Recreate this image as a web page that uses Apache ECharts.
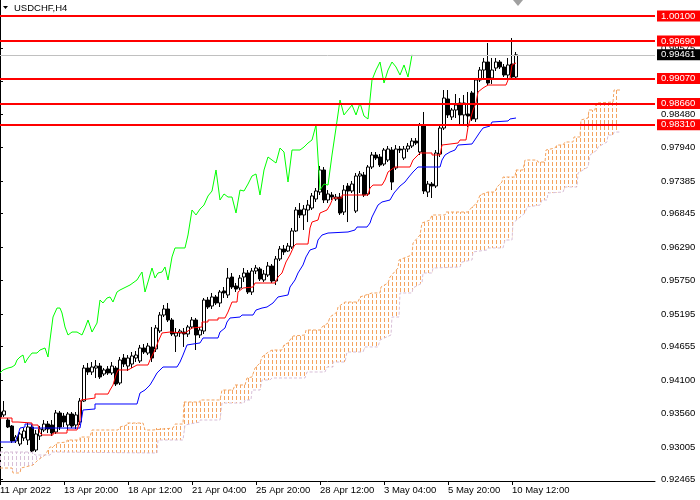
<!DOCTYPE html>
<html><head><meta charset="utf-8">
<script src="https://cdn.jsdelivr.net/npm/echarts@6/dist/echarts.min.js"></script>
<style>html,body{margin:0;padding:0;background:#fff}#c{width:700px;height:500px}</style>
</head><body><div id="c"></div>
<script>
// ---- data (USDCHF H4) ----
// candles: [open, close, low, high], bar index = position in array
const candles = [
[0.93580,0.93498,0.93465,0.93646],[0.93531,0.93597,0.93498,0.93761],[0.93448,0.93333,0.93316,0.93481],[0.93349,0.93103,0.93070,0.93366],
[0.93103,0.93168,0.93070,0.93201],[0.93053,0.93218,0.93020,0.93251],[0.93152,0.93267,0.93103,0.93316],[0.93119,0.93333,0.93037,0.93399],
[0.93333,0.92938,0.92921,0.93366],[0.92954,0.93218,0.92921,0.93284],[0.93185,0.93300,0.93119,0.93349],[0.93284,0.93382,0.93251,0.93448],
[0.93382,0.93300,0.93234,0.93432],[0.93366,0.93234,0.93185,0.93448],[0.93251,0.93564,0.93218,0.93613],[0.93564,0.93333,0.93284,0.93597],
[0.93514,0.93415,0.93333,0.93564],[0.93366,0.93547,0.93284,0.93580],[0.93547,0.93349,0.93316,0.93580],[0.93366,0.93531,0.93300,0.93580],
[0.93415,0.93761,0.93366,0.93810],[0.93761,0.94304,0.93745,0.94354],[0.94304,0.94239,0.94190,0.94387],[0.94239,0.94321,0.94190,0.94403],
[0.94304,0.94337,0.94140,0.94436],[0.94337,0.94157,0.94124,0.94387],[0.94206,0.94272,0.94173,0.94304],[0.94288,0.94223,0.94190,0.94337],
[0.94223,0.94337,0.94190,0.94403],[0.94304,0.94041,0.94008,0.94337],[0.94058,0.94436,0.94025,0.94486],[0.94469,0.94370,0.94321,0.94535],
[0.94337,0.94469,0.94255,0.94518],[0.94370,0.94502,0.94304,0.94568],[0.94469,0.94518,0.94403,0.94584],[0.94420,0.94634,0.94387,0.94684],
[0.94634,0.94568,0.94535,0.94700],[0.94551,0.94667,0.94518,0.94717],[0.94651,0.94469,0.94403,0.94980],[0.94618,0.94963,0.94568,0.95013],
[0.94914,0.95177,0.94881,0.95226],[0.95177,0.95276,0.95144,0.95342],[0.95276,0.95095,0.95062,0.95375],[0.95095,0.94864,0.94831,0.95128],
[0.94831,0.94881,0.94568,0.94963],[0.94881,0.94914,0.94815,0.94947],[0.94897,0.94864,0.94651,0.94963],[0.94864,0.94980,0.94815,0.95013],
[0.94980,0.95095,0.94947,0.95144],[0.95095,0.94848,0.94601,0.95128],[0.94848,0.94930,0.94799,0.94980],[0.94914,0.95424,0.94864,0.95457],
[0.95424,0.95309,0.95276,0.95474],[0.95325,0.95474,0.95276,0.95540],[0.95474,0.95375,0.95342,0.95507],[0.95375,0.95556,0.95309,0.95589],
[0.95573,0.95540,0.95457,0.95638],[0.95507,0.95786,0.95457,0.95951],[0.95803,0.95638,0.95605,0.95869],[0.95655,0.95605,0.95556,0.95704],
[0.95622,0.95786,0.95589,0.95836],[0.95803,0.95869,0.95721,0.95951],[0.95869,0.95556,0.95523,0.95918],[0.95556,0.95902,0.95507,0.95951],
[0.95902,0.95951,0.95852,0.96001],[0.95935,0.95770,0.95737,0.95968],[0.95754,0.95852,0.95721,0.95918],[0.95836,0.95984,0.95803,0.96050],
[0.95984,0.95737,0.95704,0.96017],[0.95737,0.96100,0.95671,0.96149],[0.96100,0.96264,0.96066,0.96313],[0.96264,0.96215,0.96166,0.96330],
[0.96231,0.96313,0.96215,0.96363],[0.96297,0.96561,0.96264,0.96610],[0.96561,0.96906,0.96544,0.96955],[0.96906,0.96824,0.96774,0.97021],
[0.96824,0.96922,0.96577,0.96988],[0.96906,0.96988,0.96708,0.97071],[0.96939,0.97137,0.96906,0.97186],[0.97087,0.97219,0.97038,0.97268],
[0.97202,0.97565,0.97153,0.97631],[0.97565,0.97071,0.97021,0.97614],[0.97071,0.97170,0.97021,0.97235],[0.97153,0.97120,0.97071,0.97202],
[0.97087,0.97120,0.97054,0.97170],[0.97120,0.96857,0.96824,0.97186],[0.96873,0.97235,0.96824,0.97317],[0.97301,0.97219,0.96708,0.97350],
[0.97219,0.97334,0.97186,0.97384],[0.96889,0.97466,0.96857,0.97515],[0.97466,0.97499,0.97186,0.97548],[0.97482,0.97153,0.97120,0.97532],
[0.97170,0.97614,0.97137,0.97647],[0.97614,0.97812,0.97581,0.97861],[0.97812,0.97762,0.97729,0.97861],[0.97779,0.97647,0.97614,0.97828],
[0.97663,0.97894,0.97631,0.97927],[0.97729,0.97910,0.97696,0.97960],[0.97894,0.97367,0.97235,0.97943],[0.97598,0.97910,0.97565,0.97976],
[0.97910,0.97894,0.97845,0.97960],[0.97762,0.97910,0.97729,0.97960],[0.97910,0.97960,0.97861,0.98009],[0.97960,0.98042,0.97927,0.98091],
[0.98042,0.98009,0.97976,0.98091],[0.97861,0.98306,0.97812,0.98339],[0.98289,0.97219,0.97170,0.98520],[0.97202,0.97334,0.97120,0.97384],
[0.97334,0.97301,0.97104,0.97367],[0.97301,0.97845,0.97268,0.97894],[0.97828,0.98256,0.97779,0.98289],[0.98256,0.98750,0.98223,0.98882],
[0.98734,0.98471,0.98421,0.98882],[0.98438,0.98553,0.98388,0.98586],[0.98553,0.98635,0.98421,0.98816],[0.98668,0.98471,0.98306,0.98750],
[0.98471,0.98668,0.98289,0.98800],[0.98487,0.98454,0.98273,0.98849],[0.98833,0.98405,0.98372,0.98866],[0.98405,0.99047,0.98355,0.99080],
[0.99047,0.99211,0.99014,0.99261],[0.99211,0.99343,0.99047,0.99409],[0.99343,0.98997,0.98964,0.99656],[0.99080,0.99211,0.98981,0.99409],
[0.99244,0.99343,0.99195,0.99409],[0.99343,0.99261,0.99228,0.99376],[0.99261,0.99129,0.99096,0.99310],[0.99129,0.99294,0.99080,0.99409],
[0.99310,0.99096,0.99063,0.99738],[0.99096,0.99461,0.99047,0.99508]
];
// Ichimoku lines: [bar index, price]
const tenkan = [[0,0.93481],[3,0.93481],[3,0.93415],[4.5,0.93415],[4.5,0.93399],[8,0.93399],[8,0.93366],[9.5,0.93366],[10,0.93234],[10.5,0.93201],[13.25,0.93201],[13.25,0.93234],[16.75,0.93234],[16.75,0.93284],[19.25,0.93284],[19.5,0.93333],[20,0.93448],[20.25,0.93778],[20.75,0.93810],[23.75,0.93810],[23.75,0.93876],[27,0.93876],[27.5,0.93942],[28.25,0.94025],[29,0.94190],[29.5,0.94272],[32,0.94272],[32.5,0.94304],[34.25,0.94354],[37,0.94354],[37.5,0.94436],[38.75,0.94601],[39.5,0.94733],[40.5,0.94881],[42.5,0.94897],[46.25,0.94881],[47,0.94914],[48,0.94963],[50.5,0.94980],[50.5,0.95062],[52,0.95062],[52,0.95095],[54.5,0.95095],[54.5,0.95128],[56.25,0.95128],[57,0.95226],[57.5,0.95309],[58,0.95391],[59.25,0.95391],[59.5,0.95556],[60.75,0.95622],[63.25,0.95638],[63.75,0.95704],[68.75,0.95704],[69.5,0.95803],[70.5,0.95869],[71.5,0.96050],[72.5,0.96166],[73.5,0.96313],[74,0.96346],[77,0.96346],[77.5,0.96610],[78,0.96708],[79.5,0.96741],[80,0.96857],[81.75,0.96906],[82.5,0.96988],[83.25,0.97104],[85.5,0.97104],[85.5,0.97153],[92,0.97153],[92.5,0.97268],[93.25,0.97317],[95.5,0.97317],[96.25,0.97400],[97,0.97532],[98.75,0.97614],[102.5,0.97614],[103.25,0.97729],[104.5,0.97812],[105,0.97845],[108,0.97845],[108,0.97812],[110,0.97812],[110.5,0.97976],[114.5,0.98009],[115,0.98059],[116.5,0.98059],[117,0.98273],[118.25,0.98553],[119,0.98668],[119.5,0.98849],[120.75,0.98915],[122,0.98964],[126.5,0.98964],[127,0.99047],[127.5,0.99080],[128,0.99294],[129,0.99327]];
const kijun = [[0,0.93086],[3.75,0.93086],[4.5,0.93201],[5,0.93316],[6.25,0.93333],[6.25,0.93382],[8,0.93382],[8,0.93316],[20,0.93316],[20.75,0.93613],[23.75,0.93630],[23.75,0.93712],[34.25,0.93712],[35,0.93893],[36.25,0.93942],[37.5,0.94025],[38.25,0.94107],[39.25,0.94223],[40.75,0.94321],[44.25,0.94321],[45,0.94403],[45.75,0.94518],[46.75,0.94684],[50,0.94717],[50.75,0.94799],[54.5,0.94799],[55,0.94897],[56.25,0.94963],[56.75,0.95062],[57.5,0.95128],[60,0.95144],[60.5,0.95177],[63.25,0.95177],[64,0.95259],[65.5,0.95292],[66.75,0.95309],[68.25,0.95375],[69.5,0.95474],[72,0.95507],[72.5,0.95638],[73.75,0.95754],[74.5,0.95869],[75.75,0.96001],[76.5,0.96133],[77.5,0.96248],[79,0.96281],[79.5,0.96412],[80.5,0.96494],[82,0.96527],[87,0.96544],[88.75,0.96577],[89.25,0.96626],[91.75,0.96626],[92.5,0.96692],[93,0.96791],[94.5,0.96988],[95.5,0.97038],[97.5,0.97071],[98.5,0.97186],[100,0.97301],[101.25,0.97367],[102,0.97433],[103.25,0.97532],[104.5,0.97614],[110,0.97614],[110.5,0.97729],[111.25,0.97812],[112.5,0.97861],[113.75,0.97894],[114.5,0.97976],[118,0.97993],[119,0.98091],[120,0.98190],[120.75,0.98256],[122.5,0.98289],[123,0.98355],[127,0.98372],[127.5,0.98405],[129,0.98421]];
const chikou = [[0,0.94223],[0.75,0.94272],[2,0.94304],[3,0.94321],[3.75,0.94354],[4.25,0.94436],[5,0.94486],[5.75,0.94518],[6.25,0.94387],[7,0.94469],[8,0.94551],[9.25,0.94551],[10,0.94601],[11.25,0.94634],[12,0.94486],[12.5,0.94766],[13.25,0.95144],[14.25,0.95292],[15,0.95292],[15.5,0.95210],[16.25,0.94980],[17,0.94848],[18,0.94897],[19.25,0.94897],[20.5,0.94848],[21.25,0.94963],[22,0.95095],[23,0.94897],[24.25,0.95045],[25,0.95424],[25.75,0.95375],[26.75,0.95457],[27.5,0.95474],[28.25,0.95391],[29.25,0.95556],[30,0.95589],[32.5,0.95671],[34.25,0.95754],[35,0.95836],[35.5,0.95885],[36.25,0.95556],[37,0.95721],[38,0.95951],[38.75,0.95787],[39.5,0.95869],[40.5,0.95885],[41.25,0.95968],[42,0.95754],[43,0.96133],[43.75,0.96281],[46.25,0.96281],[47,0.96495],[48,0.96906],[49,0.96824],[50,0.96922],[51,0.96988],[52,0.97137],[53,0.97219],[54,0.97565],[55,0.97071],[56,0.97170],[57,0.97120],[58,0.97120],[59,0.96857],[60,0.97235],[61,0.97219],[62,0.97334],[63,0.97466],[64,0.97499],[65,0.97153],[66,0.97565],[67,0.97779],[68,0.97729],[69,0.97680],[70,0.97927],[71,0.97861],[72,0.97367],[73,0.97894],[74,0.97894],[75,0.97894],[76,0.97943],[77,0.98009],[78,0.98059],[79,0.98306],[80,0.97235],[81,0.97334],[82,0.97317],[83,0.97812],[84,0.98256],[85,0.98717],[86,0.98471],[87,0.98553],[88,0.98635],[89,0.98471],[90,0.98668],[91,0.98454],[92,0.98405],[93,0.99047],[94,0.99211],[95,0.99343],[96,0.98997],[97,0.99211],[98,0.99343],[99,0.99261],[100,0.99129],[101,0.99294],[102,0.99096],[103,0.99461]];
const spanA = [[0,0.92658],[3,0.92658],[3.25,0.92576],[5,0.92576],[5.25,0.92658],[8.25,0.92707],[9.5,0.92790],[11.25,0.92872],[12.5,0.93004],[13.25,0.93004],[14.25,0.93070],[16.75,0.93086],[16.75,0.93119],[20,0.93119],[20,0.93168],[22.5,0.93168],[23,0.93284],[29.5,0.93284],[30,0.93333],[31.75,0.93366],[31.75,0.93399],[35.75,0.93399],[36.25,0.93284],[38.25,0.93284],[38.75,0.93316],[43.25,0.93316],[43.75,0.93382],[45.75,0.93382],[46,0.93745],[50,0.93745],[50,0.93778],[55,0.93778],[55.5,0.93942],[58.25,0.93942],[58.75,0.94025],[61.25,0.94025],[61.75,0.94140],[63,0.94157],[63.75,0.94304],[65,0.94387],[65.5,0.94486],[66.75,0.94551],[68,0.94601],[70.5,0.94601],[71,0.94684],[72,0.94717],[72.5,0.94766],[73.25,0.94831],[76.25,0.94848],[76.5,0.94930],[80,0.94930],[80.5,0.94980],[82,0.95045],[82.5,0.95144],[84.25,0.95226],[84.5,0.95309],[86.25,0.95391],[89.5,0.95391],[90,0.95474],[93,0.95540],[95,0.95540],[95.25,0.95638],[97,0.95704],[97.5,0.95803],[99.5,0.95951],[99.75,0.96083],[103,0.96166],[103.25,0.96363],[105,0.96495],[105.5,0.96692],[107.5,0.96741],[108,0.96824],[111.25,0.96824],[111.5,0.96873],[117,0.96873],[118,0.96955],[119.25,0.97021],[120,0.97153],[122,0.97202],[123.75,0.97202],[124.25,0.97285],[125.5,0.97367],[125.75,0.97449],[128.75,0.97449],[129,0.97565],[130.75,0.97565],[131.25,0.97729],[134.25,0.97729],[134.5,0.97696],[136.25,0.97696],[136.5,0.97894],[138.75,0.97927],[139.25,0.97976],[140.75,0.97976],[141.25,0.98026],[143.25,0.98026],[143.5,0.98108],[145,0.98108],[145.25,0.98388],[147,0.98421],[147.25,0.98553],[148.75,0.98553],[149,0.98668],[153.25,0.98684],[153.5,0.98882],[155,0.98882]];
const spanB = [[0,0.92921],[8.25,0.92921],[8.75,0.92872],[11.25,0.92872],[12.5,0.92872],[13,0.92921],[39.25,0.92905],[39.5,0.93119],[45.75,0.93119],[46.25,0.93366],[50,0.93415],[50,0.93448],[55,0.93448],[55.5,0.93728],[61,0.93728],[61.25,0.93778],[62.75,0.93778],[63,0.93942],[65,0.93942],[65.5,0.94107],[67.5,0.94107],[68,0.94140],[76.25,0.94140],[76.75,0.94239],[81.25,0.94239],[81.75,0.94321],[83.25,0.94321],[83.25,0.94403],[86.25,0.94403],[86.75,0.94568],[90.75,0.94568],[91.25,0.94651],[94.5,0.94651],[95,0.94766],[97.75,0.94848],[98,0.95144],[99.75,0.95144],[100,0.95540],[103,0.95540],[103.25,0.95622],[105.5,0.95704],[105.75,0.95869],[108,0.95869],[108.25,0.95951],[115,0.95968],[115.5,0.96050],[118,0.96083],[118.25,0.96215],[121.75,0.96248],[122,0.96281],[125.75,0.96281],[126.25,0.96412],[128,0.96412],[128.25,0.96692],[131.25,0.96857],[131.75,0.96955],[135,0.96988],[135.5,0.97071],[136.75,0.97071],[137,0.97186],[140.75,0.97202],[141.25,0.97285],[144.25,0.97285],[144.5,0.97515],[147,0.97614],[147.5,0.97812],[149.25,0.97894],[149.5,0.97943],[151.75,0.98026],[152,0.98141],[153.25,0.98141],[153.5,0.98190],[155,0.98190]];
const cloudSplit = 11.25; // span B above span A before this bar
const levelLines = [1.00100, 0.99690, 0.99070, 0.98660, 0.98310];
const bidPrice = 0.99461;
const yTicks = [0.92465,0.93005,0.93560,0.94100,0.94655,0.95195,0.95750,0.96290,0.96845,0.97385,0.97940,0.98480,0.99030,0.99575,1.00120];
const xTickIdx = [0,16,32,48,64,80,96,112,128];
const xTickLabels = ['11 Apr 2022','13 Apr 20:00','18 Apr 12:00','21 Apr 04:00','25 Apr 20:00','28 Apr 12:00','3 May 04:00','5 May 20:00','10 May 12:00'];
const symbolTitle = 'USDCHF,H4';

// ---- chart ----
const FONT = 'Liberation Sans';
function hatch(color){
  const c = document.createElement('canvas'); c.width = 4; c.height = 6;
  const g = c.getContext('2d'); g.fillStyle = color; g.fillRect(0,0,1,4);
  return {image: c, repeat: 'repeat'};
}
const hatchOrange = hatch('#F4A460'), hatchThistle = hatch('#D8BFD8');
function cloudPoints(api, lo, hi){
  const pts = [];
  spanA.forEach(p => { if (p[0] >= lo && p[0] <= hi) pts.push(api.coord(p)); });
  for (let k = spanB.length - 1; k >= 0; k--) { const p = spanB[k]; if (p[0] >= lo && p[0] <= hi) pts.push(api.coord(p)); }
  return pts;
}
const chart = echarts.init(document.getElementById('c'), null, {renderer: 'canvas'});
chart.setOption({
  animation: false,
  backgroundColor: '#fff',
  textStyle: {fontFamily: FONT},
  title: {text: symbolTitle, left: 14, top: 3, padding: 0, textStyle: {fontSize: 9.5, fontWeight: 'normal', color: '#000', fontFamily: FONT}},
  graphic: [
    {type: 'polygon', shape: {points: [[3,6],[8,6],[5.5,9]]}, style: {fill: '#000'}},
    {type: 'polygon', shape: {points: [[513,0],[523,0],[518,6]]}, style: {fill: '#A0A0A0'}}
  ],
  grid: {left: 0, right: 45, top: 0, bottom: 19, outerBoundsMode: 'none'},
  xAxis: {
    type: 'value', min: 0, max: 163.75,
    splitLine: {show: false},
    axisLine: {show: true, lineStyle: {color: '#000', width: 1}},
    axisTick: {show: true, length: 4, customValues: xTickIdx, lineStyle: {color: '#000'}},
    axisLabel: {customValues: xTickIdx, formatter: v => xTickLabels[xTickIdx.indexOf(v)] || '', align: 'left', margin: 4, fontSize: 9.5, color: '#000', fontFamily: FONT}
  },
  yAxis: {
    type: 'value', position: 'right', min: 0.92444, max: 1.00364,
    splitLine: {show: false},
    axisLine: {show: true, lineStyle: {color: '#000', width: 1}},
    axisTick: {show: true, length: 3, customValues: yTicks, lineStyle: {color: '#000'}},
    axisLabel: {customValues: yTicks, formatter: v => v.toFixed(5), margin: 6, fontSize: 9.5, color: '#000', fontFamily: FONT}
  },
  series: [
    {
      type: 'custom', z: 1, silent: true, data: [[0, 0.95]],
      renderItem: (params, api) => ({
        type: 'group',
        children: [
          {type: 'polygon', shape: {points: cloudPoints(api, 0, cloudSplit)}, style: {fill: hatchThistle}},
          {type: 'polygon', shape: {points: cloudPoints(api, cloudSplit, 1000)}, style: {fill: hatchOrange}}
        ]
      })
    },
    {type: 'line', name: 'SpanA', data: spanA, z: 2, symbol: 'none', silent: true, lineStyle: {color: '#F4A460', width: 1, type: [3,2]}},
    {type: 'line', name: 'SpanB', data: spanB, z: 2, symbol: 'none', silent: true, lineStyle: {color: '#D8BFD8', width: 1, type: [3,2]}},
    {
      type: 'candlestick', z: 3, barWidth: 3,
      data: candles.map((c, i) => [i, c[0], c[1], c[2], c[3]]),
      itemStyle: {color: '#fff', color0: '#000', borderColor: '#000', borderColor0: '#000', borderWidth: 1}
    },
    {type: 'line', name: 'Chikou', data: chikou, z: 4, symbol: 'none', silent: true, lineStyle: {color: '#00FF00', width: 1}},
    {type: 'line', name: 'Kijun', data: kijun, z: 4, symbol: 'none', silent: true, lineStyle: {color: '#0000FF', width: 1}},
    {type: 'line', name: 'Tenkan', data: tenkan, z: 4, symbol: 'none', silent: true, lineStyle: {color: '#FF0000', width: 1}},
    {
      type: 'line', name: 'levels', data: [], z: 6, clip: false, silent: true,
      markLine: {
        symbol: ['none', 'none'], silent: true, animation: false, precision: 5,
        label: {show: true, position: 'end', distance: 2, formatter: p => Number(p.value).toFixed(5), color: '#fff', fontSize: 9.5, fontFamily: FONT, padding: [1,5,0,4], lineHeight: 10},
        data: levelLines.map(v => ({yAxis: v, lineStyle: {color: '#FF0000', width: 2, type: 'solid'}, label: {backgroundColor: '#FF0000'}}))
          .concat([{yAxis: bidPrice, lineStyle: {color: '#C0C0C0', width: 1, type: 'solid'}, label: {backgroundColor: '#000'}}])
      }
    }
  ]
});
</script></body></html>
